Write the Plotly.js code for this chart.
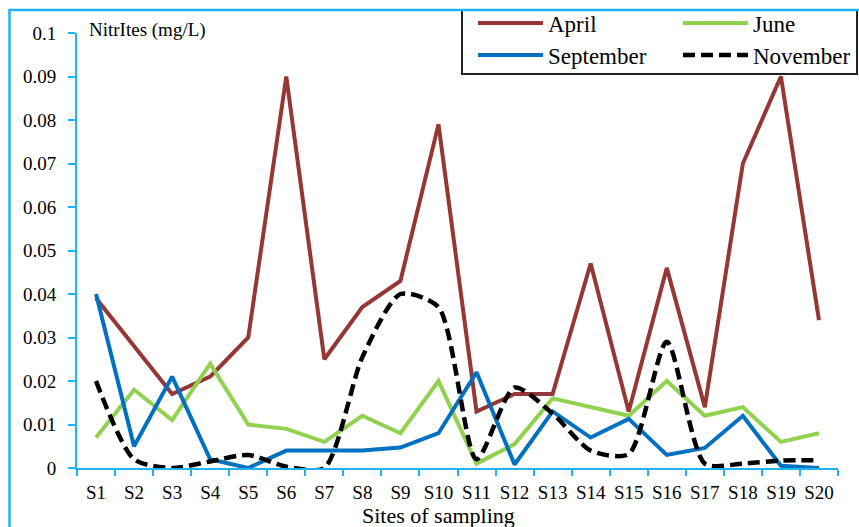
<!DOCTYPE html>
<html>
<head>
<meta charset="utf-8">
<script src="https://cdn.plot.ly/plotly-3.0.1.min.js"></script>
<style>html,body{margin:0;padding:0;background:#fff;}#chart{width:859px;height:527px;}</style>
</head>
<body>
<div id="chart"></div>
<script>
var sites = ["S1","S2","S3","S4","S5","S6","S7","S8","S9","S10","S11","S12","S13","S14","S15","S16","S17","S18","S19","S20"];
var april = [0.039,0.028,0.017,0.021,0.030,0.090,0.025,0.037,0.043,0.079,0.013,0.017,0.017,0.047,0.013,0.046,0.014,0.070,0.090,0.034];
var june = [0.007,0.018,0.011,0.024,0.010,0.009,0.006,0.012,0.008,0.020,0.001,0.0055,0.016,0.014,0.012,0.020,0.012,0.014,0.006,0.008];
var september = [0.040,0.005,0.021,0.002,0.000,0.004,0.004,0.004,0.0047,0.008,0.022,0.0008,0.013,0.007,0.0113,0.003,0.0046,0.012,0.0005,0.000];
var november = [0.020,0.002,0.000,0.0015,0.003,0.0003,0.000,0.0255,0.040,0.037,0.002,0.0185,0.0125,0.004,0.0032,0.029,0.001,0.001,0.0017,0.0018];
var yTicks = [0,0.01,0.02,0.03,0.04,0.05,0.06,0.07,0.08,0.09,0.1];

var cyan = '#21b3ef';
var serif = '"Liberation Serif", "Times New Roman", serif';

var traces = [
  {x: sites, y: april, name: 'April', type: 'scatter', mode: 'lines', line: {color: '#953735', width: 4}, legend: 'legend'},
  {x: sites, y: june, name: 'June', type: 'scatter', mode: 'lines', line: {color: '#92d050', width: 4}, legend: 'legend'},
  {x: sites, y: september, name: 'September', type: 'scatter', mode: 'lines', line: {color: '#0070c0', width: 4}, legend: 'legend2'},
  {x: sites, y: november, name: 'November', type: 'scatter', mode: 'lines', line: {color: '#000000', width: 4.5, dash: '12px,6px', shape: 'spline', smoothing: 0.7}, legend: 'legend2'}
];

var legendCommon = {
  orientation: 'h', xanchor: 'left', yanchor: 'top',
  bgcolor: 'rgba(0,0,0,0)', borderwidth: 0,
  font: {family: serif, size: 23, color: '#000'},
  itemwidth: 65, entrywidth: 125, entrywidthmode: 'pixels',
  itemclick: false, itemdoubleclick: false
};

var layout = {
  width: 859, height: 527,
  margin: {l: 77, r: 21, t: 33, b: 59, autoexpand: false},
  paper_bgcolor: '#fff', plot_bgcolor: '#fff',
  showlegend: true,
  legend: Object.assign({}, legendCommon, {x: (473-77)/761, y: 1.0724}),
  legend2: Object.assign({}, legendCommon, {x: (473-77)/761, y: 0.9989}),
  xaxis: {
    type: 'category', range: [-0.5, 19.5],
    showline: true, linecolor: cyan, linewidth: 2,
    ticks: 'outside', tickson: 'boundaries', ticklen: 6, tickcolor: cyan, tickwidth: 2,
    showgrid: false, zeroline: false, tickangle: 0,
    tickfont: {family: serif, size: 19, color: '#000'},
    ticklabelstandoff: 6
  },
  yaxis: {
    range: [0, 0.1], tickvals: yTicks,
    showline: true, linecolor: cyan, linewidth: 2,
    ticks: 'outside', ticklen: 7, tickcolor: cyan, tickwidth: 2,
    showgrid: false, zeroline: false,
    tickfont: {family: serif, size: 19, color: '#000'},
    ticklabelstandoff: 8
  },
  annotations: [
    {text: 'NitrItes (mg/L)', xref: 'paper', yref: 'paper', x: (87-77)/761, y: (468-30)/435, xanchor: 'left', yanchor: 'middle', showarrow: false, font: {family: serif, size: 19, color: '#000'}},
    {text: 'Sites of sampling', xref: 'paper', yref: 'paper', x: (438-77)/761, y: (468-515)/435, xanchor: 'center', yanchor: 'middle', showarrow: false, font: {family: serif, size: 22, color: '#000'}}
  ],
  shapes: [
    {type: 'rect', xref: 'paper', yref: 'paper', x0: (462-77)/761, x1: (857-77)/761, y0: (468-74)/435, y1: (468-10)/435, line: {color: '#222', width: 2}, fillcolor: '#fff', layer: 'above'},
    {type: 'rect', xref: 'paper', yref: 'paper', x0: (9.5-77)/761, x1: 1.06, y0: -0.3, y1: (468-10)/435, line: {color: cyan, width: 2.5}, fillcolor: 'rgba(0,0,0,0)', layer: 'above'}
  ]
};

Plotly.newPlot('chart', traces, layout, {displayModeBar: false, staticPlot: true});
</script>
</body>
</html>
